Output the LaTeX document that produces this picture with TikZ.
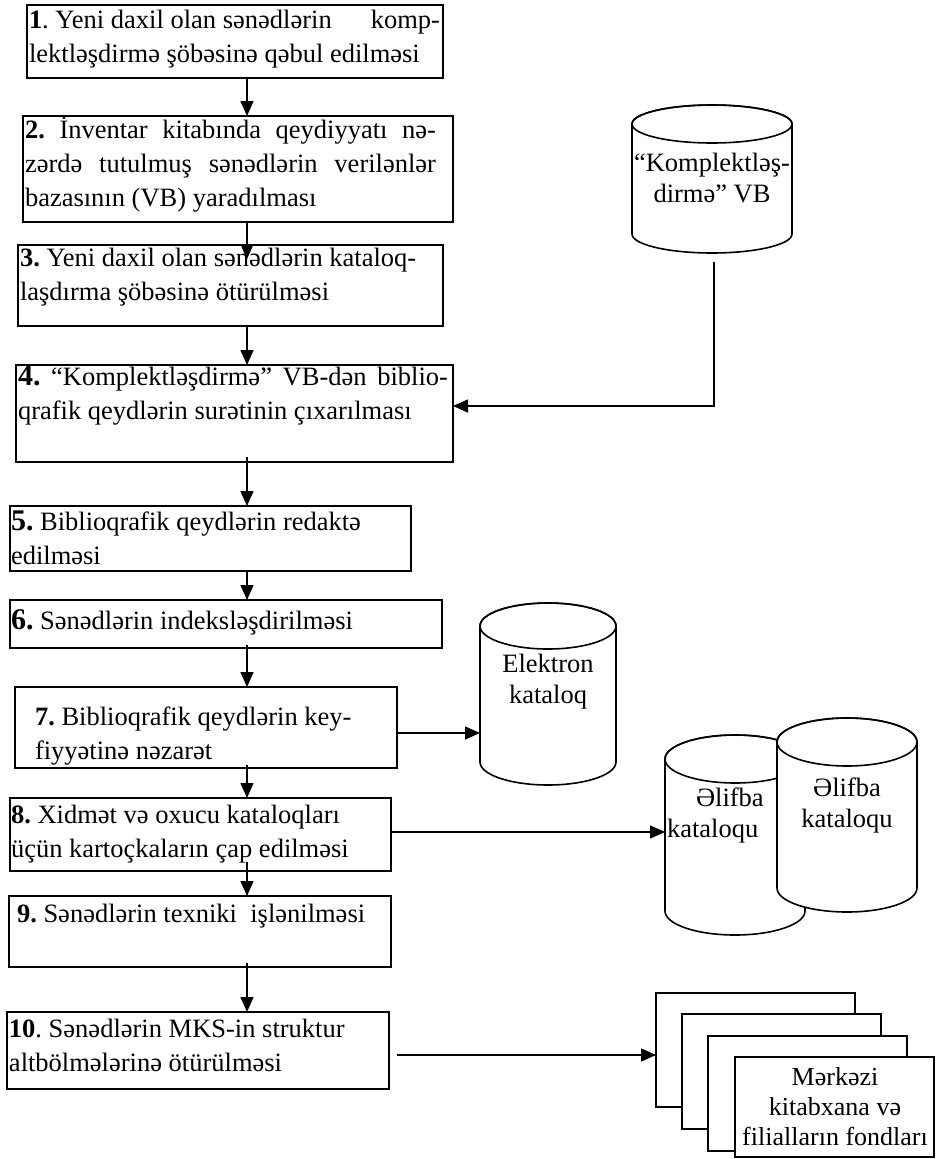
\documentclass[tikz,border=0pt]{standalone}
\usepackage{fontspec}
\setmainfont{Liberation Serif}
\usetikzlibrary{arrows.meta,calc}

\frenchspacing
\newcommand\fsz{\fontsize{26.5}{34}\selectfont}
\newcommand\cylfsz{\fontsize{26.5}{31}\selectfont}
\newcommand\bignum[1]{{\fontsize{30}{34}\selectfont\bfseries #1}}
\newcommand\topstrut{\rule{0pt}{24pt}}
% a line whose word spaces are stretched to the given width
\newcommand\fullline[2]{\makebox[#1][s]{#2}}

\tikzset{
  box/.style={draw, line width=1.6pt, rectangle, inner sep=0pt, outer sep=0pt,
    anchor=north west, fill=white},
  txt/.style={anchor=north west, inner sep=0pt, outer sep=0pt, align=left, font=\fsz},
  ctxt/.style={inner sep=0pt, outer sep=0pt, align=center, font=\cylfsz},
  arr/.style={line width=1.5pt, -{Triangle[length=15pt,width=13pt]}},
  drumline/.style={line width=1.6pt},
}

% rectangle given by left, top, right, bottom (downward y values)
\newcommand\flowbox[5]{%
  \node[box, minimum width={(#4-#2)*1pt}, minimum height={(#5-#3)*1pt}] (#1) at (#2,-#3) {};}

% cylinder: name, centre x, top, bottom, x radius, y radius
\newcommand\drumshape[6]{%
  \node[inner sep=0pt, outer sep=0pt, minimum width={2*#5*1pt},
        minimum height={(#4-#3)*1pt}] (#1) at (#2,{-(#3+#4)/2}) {};
  \draw[drumline, fill=white] (#2-#5,-#3-#6) -- (#2-#5,-#4+#6)
    arc[start angle=180, end angle=360, x radius=#5, y radius=#6]
    -- (#2+#5,-#3-#6)
    arc[start angle=0, end angle=180, x radius=#5, y radius=#6] -- cycle;
  \draw[drumline] (#2,-#3-#6) ellipse[x radius=#5, y radius=#6];}

\begin{document}
\begin{tikzpicture}[x=1pt,y=1pt]
\useasboundingbox (0,0) rectangle (941,-1159);

% process steps
\flowbox{b1}{27}{5}{443}{78}
\flowbox{b2}{23}{116}{453}{222}
\flowbox{b3}{18}{245}{443}{326}
\flowbox{b4}{16}{365}{453}{462}
\flowbox{b5}{10}{506}{411}{571}
\flowbox{b6}{10}{600}{442}{648}
\flowbox{b7}{15}{687}{397}{768}
\flowbox{b8}{10}{798}{391}{871}
\flowbox{b9}{9}{896}{391}{967}
\flowbox{b10}{7}{1012}{389}{1089}

\node[txt] (t1) at (29,-4)
  {\topstrut\fullline{411pt}{\textbf{1}. Yeni daxil olan sənədlərin\hfill komp-}\\lektləşdirmə şöbəsinə qəbul edilməsi};
\node[txt] (t2) at (25,-114)
  {\topstrut\fullline{411pt}{\textbf{2.} İnventar kitabında qeydiyyatı nə-}\\\fullline{411pt}{zərdə tutulmuş sənədlərin verilənlər}\\bazasının (VB) yaradılması};
\node[txt] (t3) at (20,-242)
  {\topstrut\textbf{3.} Yeni daxil olan sənədlərin kataloq-\\laşdırma şöbəsinə ötürülməsi};
\node[txt] (t4) at (18,-361)
  {\topstrut\fullline{430pt}{\bignum{4.} “Komplektləşdirmə” VB-dən biblio-}\\qrafik qeydlərin surətinin çıxarılması};
\node[txt] (t5) at (11,-506)
  {\topstrut\bignum{5.} Biblioqrafik qeydlərin redaktə\\edilməsi};
\node[txt] (t6) at (11,-605)
  {\topstrut\bignum{6.} Sənədlərin indeksləşdirilməsi};
\node[txt] (t7) at (35,-701)
  {\topstrut\textbf{7.} Biblioqrafik qeydlərin key-\\fiyyətinə nəzarət};
\node[txt] (t8) at (11,-799)
  {\topstrut\textbf{8.} Xidmət və oxucu kataloqları\\üçün kartoçkaların çap edilməsi};
\node[txt] (t9) at (17,-898)
  {\topstrut\textbf{9.} Sənədlərin texniki\ \ işlənilməsi};
\node[txt] (t10) at (9,-1013)
  {\topstrut\textbf{10}. Sənədlərin MKS-in struktur\\altbölmələrinə ötürülməsi};

% main flow
\coordinate (ax) at (247,0);
\draw[arr] (b1.south -| ax) -- (b2.north -| ax);
\draw[arr] (b2.south -| ax) -- ($(b3.north -| ax)+(0,-14)$);
\draw[arr] (b3.south -| ax) -- (b4.north -| ax);
\draw[arr] ($(b4.south -| ax)+(0,5)$) -- (b5.north -| ax);
\draw[arr] (b5.south -| ax) -- (b6.north -| ax);
\draw[arr] ($(b6.south -| ax)+(0,3)$) -- (b7.north -| ax);
\draw[arr] ($(b7.south -| ax)+(0,3)$) -- (b8.north -| ax);
\draw[arr] ($(b8.south -| ax)+(0,9)$) -- (b9.north -| ax);
\draw[arr] ($(b9.south -| ax)+(0,4)$) -- (b10.north -| ax);

% databases and catalogues
\drumshape{ck}{712}{105}{253}{80}{19}
\node[ctxt] (tck) at (712,-178) {“Komplektləş-\\dirmə” VB};

\drumshape{ek}{548}{603}{785}{68}{23}
\node[ctxt] (tek) at (548,-682) {Elektron\\kataloq};

\drumshape{ak1}{735}{735}{935}{70}{24}
\node[ctxt, align=left, anchor=west] (tak1) at (667,-815) {\hspace*{29pt}Əlifba\\kataloqu};

\drumshape{ak2}{847}{718}{912}{70}{24}
\node[ctxt] (tak2) at (847,-805) {Əlifba\\kataloqu};

% copy of the acquisition database into step 4
\coordinate (ckl) at (714,-262);
\draw[arr] (ckl) |- (b4.east |- 0,-406);

% outputs
\coordinate (o7) at (396,-733);
\draw[arr] (o7) -- (o7 -| ek.west);
\coordinate (o8) at (391,-832);
\draw[arr] (o8) -- (o8 -| ak1.west);

% stacked library funds
\node[box, minimum width=199pt, minimum height=114pt] (sA) at (656,-993) {};
\node[box, minimum width=199pt, minimum height=115pt] (sB) at (682,-1014) {};
\node[box, minimum width=199pt, minimum height=115pt] (sC) at (708,-1036) {};
\node[box, minimum width=199pt, minimum height=100pt] (sD) at (735,-1057) {};
\node[ctxt, font=\fontsize{26}{30}\selectfont] (tsD) at (835,-1107)
  {Mərkəzi\\kitabxana və\\filialların fondları};

\coordinate (o10) at (397,-1055);
\draw[arr] (o10) -- (o10 -| sA.west);
\end{tikzpicture}
\end{document}
